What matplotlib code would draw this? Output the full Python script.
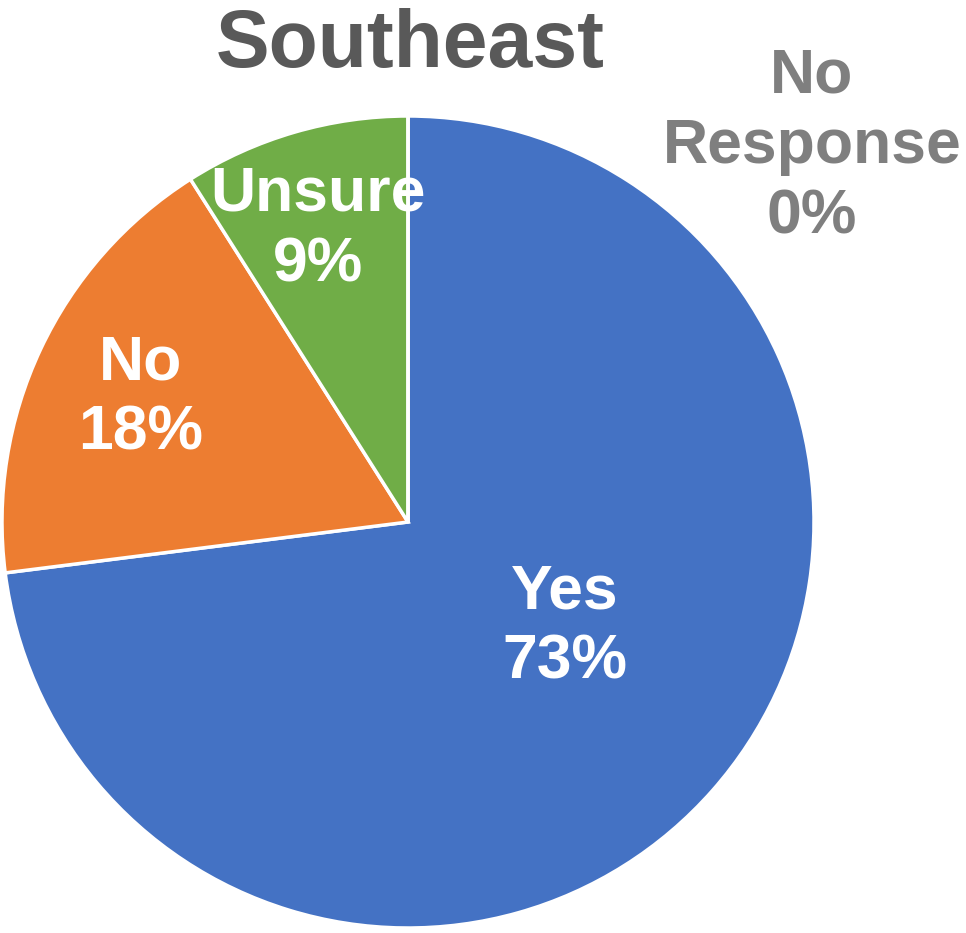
import matplotlib.pyplot as plt

plt.rcParams['font.family'] = ['Liberation Sans', 'DejaVu Sans']

labels = ['Yes', 'No', 'Unsure', 'No Response']
values = [73, 18, 9, 0]
colors = ['#4472C4', '#ED7D31', '#70AD47', '#A5A5A5']
# label centres (fraction of radius) and text colours
label_pos = [(0.387, -0.259), (-0.658, 0.305), (-0.222, 0.721), (0.995, 0.924)]
label_text = ['Yes\n73%', 'No\n18%', 'Unsure\n9%', 'No\nResponse\n0%']
label_colors = ['white', 'white', 'white', '#7F7F7F']

fig = plt.figure(figsize=(9.66, 9.33), dpi=100)
ax = fig.add_axes([2 / 966, 5 / 933, 812 / 966, 812 / 933])

ax.pie(values, colors=colors, startangle=90, counterclock=False, radius=1,
       wedgeprops={'edgecolor': 'white', 'linewidth': 2.5})
ax.set_xlim(-1, 1)
ax.set_ylim(-1, 1)

for (x, y), t, c in zip(label_pos, label_text, label_colors):
    ax.text(x, y, t, ha='center', va='center', color=c, fontsize=45,
            fontweight='bold', linespacing=1.25)

fig.text(410 / 966, 1 - 67 / 933, 'Southeast', ha='center', va='baseline',
         fontsize=58, fontweight='bold', color='#595959')

fig.savefig('out.png', dpi=100)
